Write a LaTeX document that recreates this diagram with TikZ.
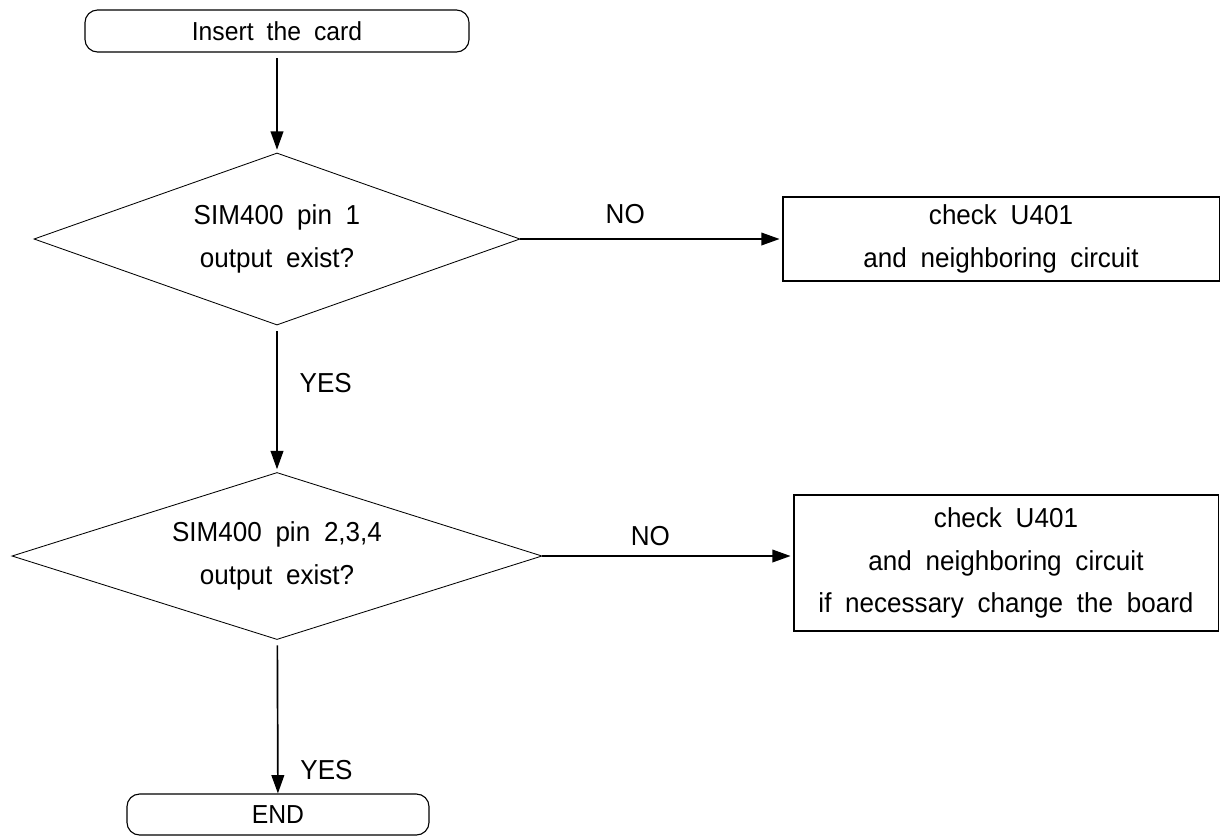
\documentclass[tikz,border=0pt]{standalone}
\usepackage{fontspec}
\setmainfont{Liberation Sans}[FakeStretch=0.95,WordSpace=1.9]
\usetikzlibrary{arrows.meta, shapes.geometric, positioning}
\tikzset{
  >={Triangle[length=13pt,width=9pt]},
  % blocchi del diagramma
  term/.style={draw,line width=0.8pt,rounded corners=9pt,inner sep=0pt,font=\fontsize{18.5}{20}\selectfont},
  decision/.style={draw,diamond,line width=0.6pt,inner sep=0pt,align=center},
  action/.style={draw,rectangle,line width=0.8pt,inner sep=0pt,align=center},
  % collegamenti
  flow/.style={->,line width=1.2pt,shorten >=2pt},
  answer/.style={inner sep=0pt}
}

\begin{document}
\begin{tikzpicture}[x=0.025cm,y=-0.025cm,font=\fontsize{19.5}{30.5}\selectfont]
  \useasboundingbox (0,0) rectangle (1220,836);
  % nodi
  \node[term,minimum width=9.6cm,minimum height=1.05cm] (start) at (277,31) {Insert the card};
  \node[decision,aspect=2.83,minimum width=12.15cm,minimum height=4.3cm] (d1) at (277,239) {SIM400 pin 1\\output exist?};
  \node[action,minimum width=10.9cm,minimum height=2.1cm] (b1) at (1001,239) {check U401\\and neighboring circuit};
  \node[decision,aspect=3.17,minimum width=13.25cm,minimum height=4.175cm] (d2) at (277,556) {SIM400 pin 2,3,4\\output exist?};
  \node[action,minimum width=10.6cm,minimum height=3.4cm] (b2) at (1006,563) {check U401\\and neighboring circuit\\if necessary change the board};
  \node[term,minimum width=7.55cm,minimum height=1.025cm] (end) at (278,814.5) {END};
  % frecce
  \draw[flow,shorten <=4pt] (start) -- (d1);
  \draw[flow] (d1.east) -- node[answer,pos=0.4,above=10pt] {NO} (d1.east -| b1.west);
  \draw[flow,shorten <=4pt] (d1) -- node[answer,pos=0.39,right=15.5pt] {YES} (d2);
  \draw[flow] (d2.east) -- node[answer,pos=0.43,above=7pt] {NO} (d2.east -| b2.west);
  \draw[flow,shorten <=4pt,shorten >=0pt] (d2) -- node[answer,pos=0.85,right=15.5pt] {YES} (end);
\end{tikzpicture}
\end{document}
